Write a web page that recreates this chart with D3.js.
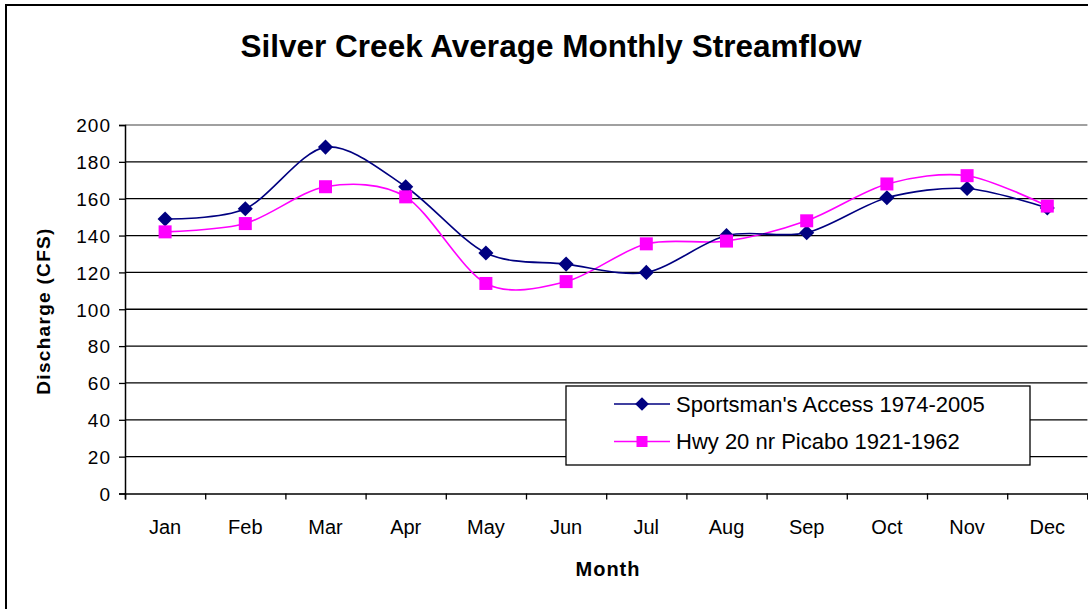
<!DOCTYPE html>
<html>
<head>
<meta charset="utf-8">
<script src="https://cdn.jsdelivr.net/npm/d3@7"></script>
<style>
  body { margin: 0; background: #fff; }
  text { font-family: "Liberation Sans", Arial, sans-serif; fill: #000; }
</style>
</head>
<body>
<div id="chart"></div>
<script>
var svgWidth = 1088;
var svgHeight = 609;

// chart data
var months = ["Jan", "Feb", "Mar", "Apr", "May", "Jun", "Jul", "Aug", "Sep", "Oct", "Nov", "Dec"];
var sportsmans = [149, 154.5, 188, 166.5, 130.5, 124.5, 120, 140, 141.5, 160.5, 165.5, 155];
var picabo = [142, 146.5, 166.5, 161, 114, 115, 135.5, 137, 148, 168, 172.5, 156];
var yTicks = [0, 20, 40, 60, 80, 100, 120, 140, 160, 180, 200];
var seriesNames = ["Sportsman's Access 1974-2005", "Hwy 20 nr Picabo 1921-1962"];

var margin = {
  top: 125,
  right: 0.6,
  bottom: 115,
  left: 125
};

var width = svgWidth - margin.left - margin.right;
var height = svgHeight - margin.top - margin.bottom - 0.5;

var svg = d3.select("#chart")
  .append("svg")
  .attr("width", svgWidth)
  .attr("height", svgHeight);

// outer chart frame (runs off the right and bottom edge)
svg.append("rect")
  .attr("x", 6)
  .attr("y", 5)
  .attr("width", 1200)
  .attr("height", 700)
  .attr("fill", "#fff")
  .attr("stroke", "#000")
  .attr("stroke-width", 2);

svg.append("text")
  .attr("x", 551)
  .attr("y", 57)
  .attr("text-anchor", "middle")
  .attr("font-size", "31.5px")
  .attr("font-weight", "bold")
  .text("Silver Creek Average Monthly Streamflow");

var chartGroup = svg.append("g")
  .attr("transform", `translate(${margin.left}, ${margin.top})`);

var xLinearScale = d3.scaleLinear()
  .domain([0, months.length])
  .range([0, width]);

var yLinearScale = d3.scaleLinear()
  .domain([0, 200])
  .range([height, 0]);

// gridlines
chartGroup.append("g")
  .selectAll("line")
  .data(yTicks.filter(d => d > 0))
  .join("line")
  .attr("x1", 0)
  .attr("x2", width)
  .attr("y1", d => yLinearScale(d))
  .attr("y2", d => yLinearScale(d))
  .attr("stroke", d => d === 200 ? "#808080" : "#000")
  .attr("stroke-width", 1.3);

// y axis
var leftAxis = d3.axisLeft(yLinearScale)
  .tickValues(yTicks)
  .tickSize(6)
  .tickPadding(8);

var yAxis = chartGroup.append("g")
  .call(leftAxis);

yAxis.select(".domain").attr("stroke-width", 1.5);
yAxis.selectAll(".tick line").attr("stroke-width", 1.3);
yAxis.selectAll(".tick text")
  .attr("font-size", "19px")
  .attr("font-family", "Liberation Sans, Arial, sans-serif")
  .attr("letter-spacing", "1px")
  .attr("dy", "0.36em");

// x axis, ticks on month boundaries
var bottomAxis = d3.axisBottom(xLinearScale)
  .tickValues(d3.range(months.length + 1))
  .tickSize(6)
  .tickFormat("");

var xAxis = chartGroup.append("g")
  .attr("transform", `translate(0, ${height})`)
  .call(bottomAxis);

xAxis.select(".domain").attr("stroke-width", 1.5);
xAxis.selectAll(".tick line").attr("stroke-width", 1.3);

chartGroup.append("g")
  .selectAll("text")
  .data(months)
  .join("text")
  .attr("x", (d, i) => xLinearScale(i + 0.5))
  .attr("y", height + 40)
  .attr("text-anchor", "middle")
  .attr("font-size", "20px")
  .text(d => d);

// series lines
var line = d3.line()
  .x((d, i) => xLinearScale(i + 0.5))
  .y(d => yLinearScale(d))
  .curve(d3.curveCardinal.tension(0.1));

chartGroup.append("path")
  .datum(picabo)
  .attr("d", line)
  .attr("fill", "none")
  .attr("stroke", "#ff00ff")
  .attr("stroke-width", 1.6);

chartGroup.append("path")
  .datum(sportsmans)
  .attr("d", line)
  .attr("fill", "none")
  .attr("stroke", "#000080")
  .attr("stroke-width", 1.6);

var diamond = d3.symbol().type(d3.symbolDiamond2).size(145);

chartGroup.append("g")
  .selectAll("path")
  .data(sportsmans)
  .join("path")
  .attr("transform", (d, i) => `translate(${xLinearScale(i + 0.5)}, ${yLinearScale(d)})`)
  .attr("d", diamond)
  .attr("fill", "#000080");

chartGroup.append("g")
  .selectAll("rect")
  .data(picabo)
  .join("rect")
  .attr("x", (d, i) => xLinearScale(i + 0.5) - 6.5)
  .attr("y", d => yLinearScale(d) - 6.5)
  .attr("width", 13)
  .attr("height", 13)
  .attr("fill", "#ff00ff");

// axis titles
svg.append("text")
  .attr("transform", "translate(50, 311) rotate(-90)")
  .attr("text-anchor", "middle")
  .attr("font-size", "19px")
  .attr("font-weight", "bold")
  .attr("letter-spacing", "1.3px")
  .text("Discharge (CFS)");

svg.append("text")
  .attr("x", 608)
  .attr("y", 576)
  .attr("text-anchor", "middle")
  .attr("font-size", "20px")
  .attr("font-weight", "bold")
  .attr("letter-spacing", "1px")
  .text("Month");

// legend
var legend = svg.append("g")
  .attr("transform", "translate(566, 386)");

legend.append("rect")
  .attr("width", 464)
  .attr("height", 79)
  .attr("fill", "#fff")
  .attr("stroke", "#000")
  .attr("stroke-width", 1.3);

var legendRows = legend.selectAll("g")
  .data(seriesNames)
  .join("g")
  .attr("transform", (d, i) => `translate(0, ${18 + i * 37.5})`);

legendRows.append("line")
  .attr("x1", 48)
  .attr("x2", 104)
  .attr("stroke", (d, i) => i === 0 ? "#000080" : "#ff00ff")
  .attr("stroke-width", 1.6);

legendRows.filter((d, i) => i === 0)
  .append("path")
  .attr("transform", "translate(76, 0)")
  .attr("d", d3.symbol().type(d3.symbolDiamond2).size(120))
  .attr("fill", "#000080");

legendRows.filter((d, i) => i === 1)
  .append("rect")
  .attr("x", 70.5)
  .attr("y", -5.5)
  .attr("width", 11)
  .attr("height", 11)
  .attr("fill", "#ff00ff");

legendRows.append("text")
  .attr("x", 110)
  .attr("dy", "0.36em")
  .attr("font-size", "22px")
  .text(d => d);
</script>
</body>
</html>
